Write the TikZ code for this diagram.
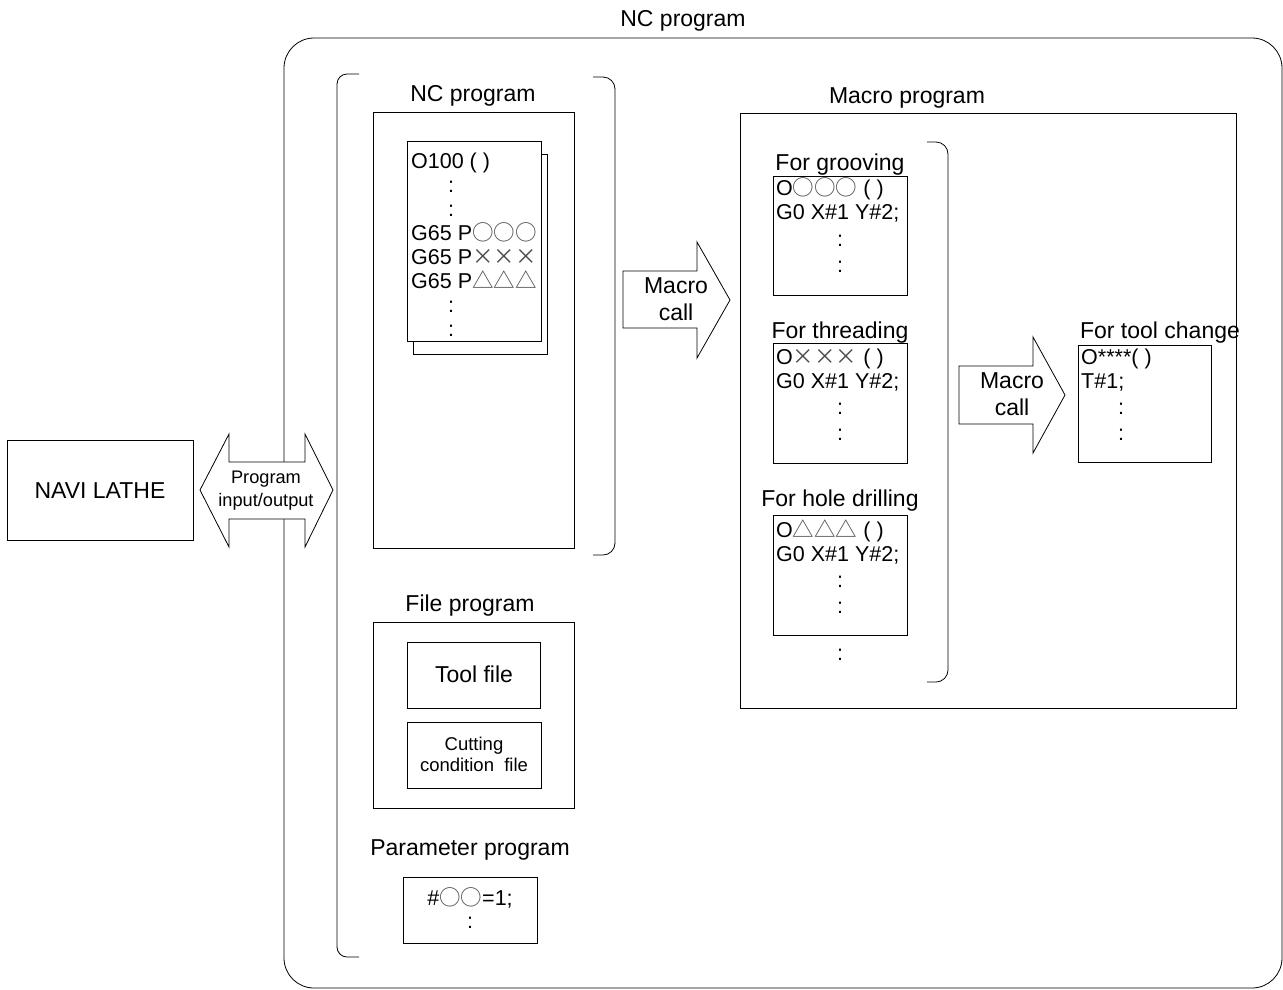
\documentclass[tikz,border=0pt]{standalone}
\usepackage{fontspec}
\setmainfont{Liberation Sans}
\newfontfamily\symf{Noto Sans CJK JP}
\newcommand{\sy}[1]{{\symf\color{black!70}#1}}
\begin{document}
\begin{tikzpicture}[x=1pt,y=-1pt,
  ln/.style={draw=black,line width=0.8pt},
  boxn/.style={ln,anchor=north west,inner sep=0pt,outer sep=0pt},
  lbl/.style={font=\fontsize{23}{27}\selectfont,inner sep=0pt,anchor=base},
  code/.style={font=\fontsize{21.5}{24}\selectfont,inner sep=0pt,anchor=base west},
  dots/.style={font=\fontsize{21.5}{24}\selectfont,inner sep=0pt,anchor=base},
  small/.style={font=\fontsize{18.5}{22}\selectfont,inner sep=0pt,anchor=base},
  tiny/.style={font=\fontsize{18.2}{22}\selectfont,inner sep=0pt,anchor=base}]
\useasboundingbox (0,0) rectangle (1283,989);
% outer box
\draw[ln,rounded corners=30pt] (284,38) rectangle (1282,988);
\node[lbl] (title) at (683,26) {NC program};
% left big bracket
\draw[ln,rounded corners=10pt] (359,74) -- (337,74) -- (337,957) -- (359,957);
% NC program
\node[lbl] (nclbl) at (473,101) {NC program};
\node[boxn,minimum width=201pt,minimum height=436pt] (ncbox) at (373,112) {};
\draw[ln,rounded corners=12pt] (593,77) -- (615,77) -- (615,555) -- (593,555);
\node[boxn,fill=white,minimum width=134pt,minimum height=200pt] (sheetb) at (413,154) {};
\node[boxn,fill=white,minimum width=134pt,minimum height=200pt] (sheet) at (407,141) {};
\node[code] (l1) at (411,168) {O100 ( )};
\node[dots] (l2) at (451,192) {:};
\node[dots] (l3) at (451,216) {:};
\node[code] (l4) at (411,240) {G65 P\sy{○○○}};
\node[code] (l5) at (411,264) {G65 P\sy{×××}};
\node[code] (l6) at (411,288) {G65 P\sy{△△△}};
\node[dots] (l7) at (451,312) {:};
\node[dots] (l8) at (451,336) {:};
% Macro call arrow 1
\draw[ln,fill=white] (623,271) -- (697,271) -- (697,242) -- (730,300) -- (697,358) -- (697,328) -- (623,328) -- cycle;
\node[lbl] (mc1a) at (676,293) {Macro};
\node[lbl] (mc1b) at (676,320) {call};
% Macro program
\node[lbl] (mplbl) at (907,103) {Macro program};
\node[boxn,minimum width=496pt,minimum height=595pt] (mpbox) at (740,113) {};
\draw[ln,rounded corners=12pt] (927,142) -- (948,142) -- (948,682) -- (927,682);
% grooving
\node[lbl] (g0) at (840,170) {For grooving};
\node[boxn,minimum width=134pt,minimum height=119pt] (gbox) at (773,176) {};
\node[code] (g1) at (776,195) {O\sy{○○○} ( )};
\node[code] (g2) at (776,219) {G0 X\#1 Y\#2;};
\node[dots] (g3) at (840,246) {:};
\node[dots] (g4) at (840,272) {:};
% threading
\node[lbl] (t0) at (840,338) {For threading};
\node[boxn,minimum width=134pt,minimum height=120pt] (tbox) at (773,343) {};
\node[code] (t1) at (776,364) {O\sy{×××} ( )};
\node[code] (t2) at (776,388) {G0 X\#1 Y\#2;};
\node[dots] (t3) at (840,414) {:};
\node[dots] (t4) at (840,440) {:};
% hole drilling
\node[lbl] (h0) at (840,506) {For hole drilling};
\node[boxn,minimum width=134pt,minimum height=120pt] (hbox) at (773,515) {};
\node[code] (h1) at (776,537) {O\sy{△△△} ( )};
\node[code] (h2) at (776,561) {G0 X\#1 Y\#2;};
\node[dots] (h3) at (840,587) {:};
\node[dots] (h4) at (840,613) {:};
\node[dots] (h5) at (840,660) {:};
% Macro call arrow 2
\draw[ln,fill=white] (959,366) -- (1033,366) -- (1033,337) -- (1065,395) -- (1033,453) -- (1033,424) -- (959,424) -- cycle;
\node[lbl] (mc2a) at (1012,388) {Macro};
\node[lbl] (mc2b) at (1012,415) {call};
% tool change
\node[lbl] (c0) at (1160,338) {For tool change};
\node[boxn,minimum width=133pt,minimum height=117pt] (cbox) at (1078,345) {};
\node[code] (c1) at (1081,364) {O****( )};
\node[code] (c2) at (1081,388) {T\#1;};
\node[dots] (c3) at (1121,414) {:};
\node[dots] (c4) at (1121,440) {:};
% File program
\node[lbl] (fplbl) at (470,611) {File program};
\node[boxn,minimum width=201pt,minimum height=186pt] (fpbox) at (373,622) {};
\node[boxn,minimum width=133pt,minimum height=66pt] (toolbox) at (407,642) {};
\node[lbl] (tooltxt) at (474,682) {Tool file};
\node[boxn,minimum width=134pt,minimum height=66pt] (cutbox) at (407,722) {};
\node[small] (cut1) at (474,750) {Cutting};
\node[small] (cut2) at (474,771) {condition\ \ file};
% Parameter program
\node[lbl] (pplbl) at (470,855) {Parameter program};
\node[boxn,minimum width=134pt,minimum height=66pt] (ppbox) at (403,877) {};
\node[dots] (pp1) at (470,905) {\#\sy{○○}=1;};
\node[dots] (pp2) at (470,928) {:};
% NAVI LATHE
\node[boxn,minimum width=186pt,minimum height=100pt] (navi) at (7,440) {};
\node[lbl] (navitxt) at (100,498) {NAVI LATHE};
% double arrow
\draw[ln,fill=white] (200,490) -- (229,434) -- (229,462) -- (305,462) -- (305,434) -- (333,490) -- (305,547) -- (305,519) -- (229,519) -- (229,547) -- cycle;
\node[tiny] (io1) at (266,483) {Program};
\node[tiny] (io2) at (266,506) {input/output};
\end{tikzpicture}
\end{document}
